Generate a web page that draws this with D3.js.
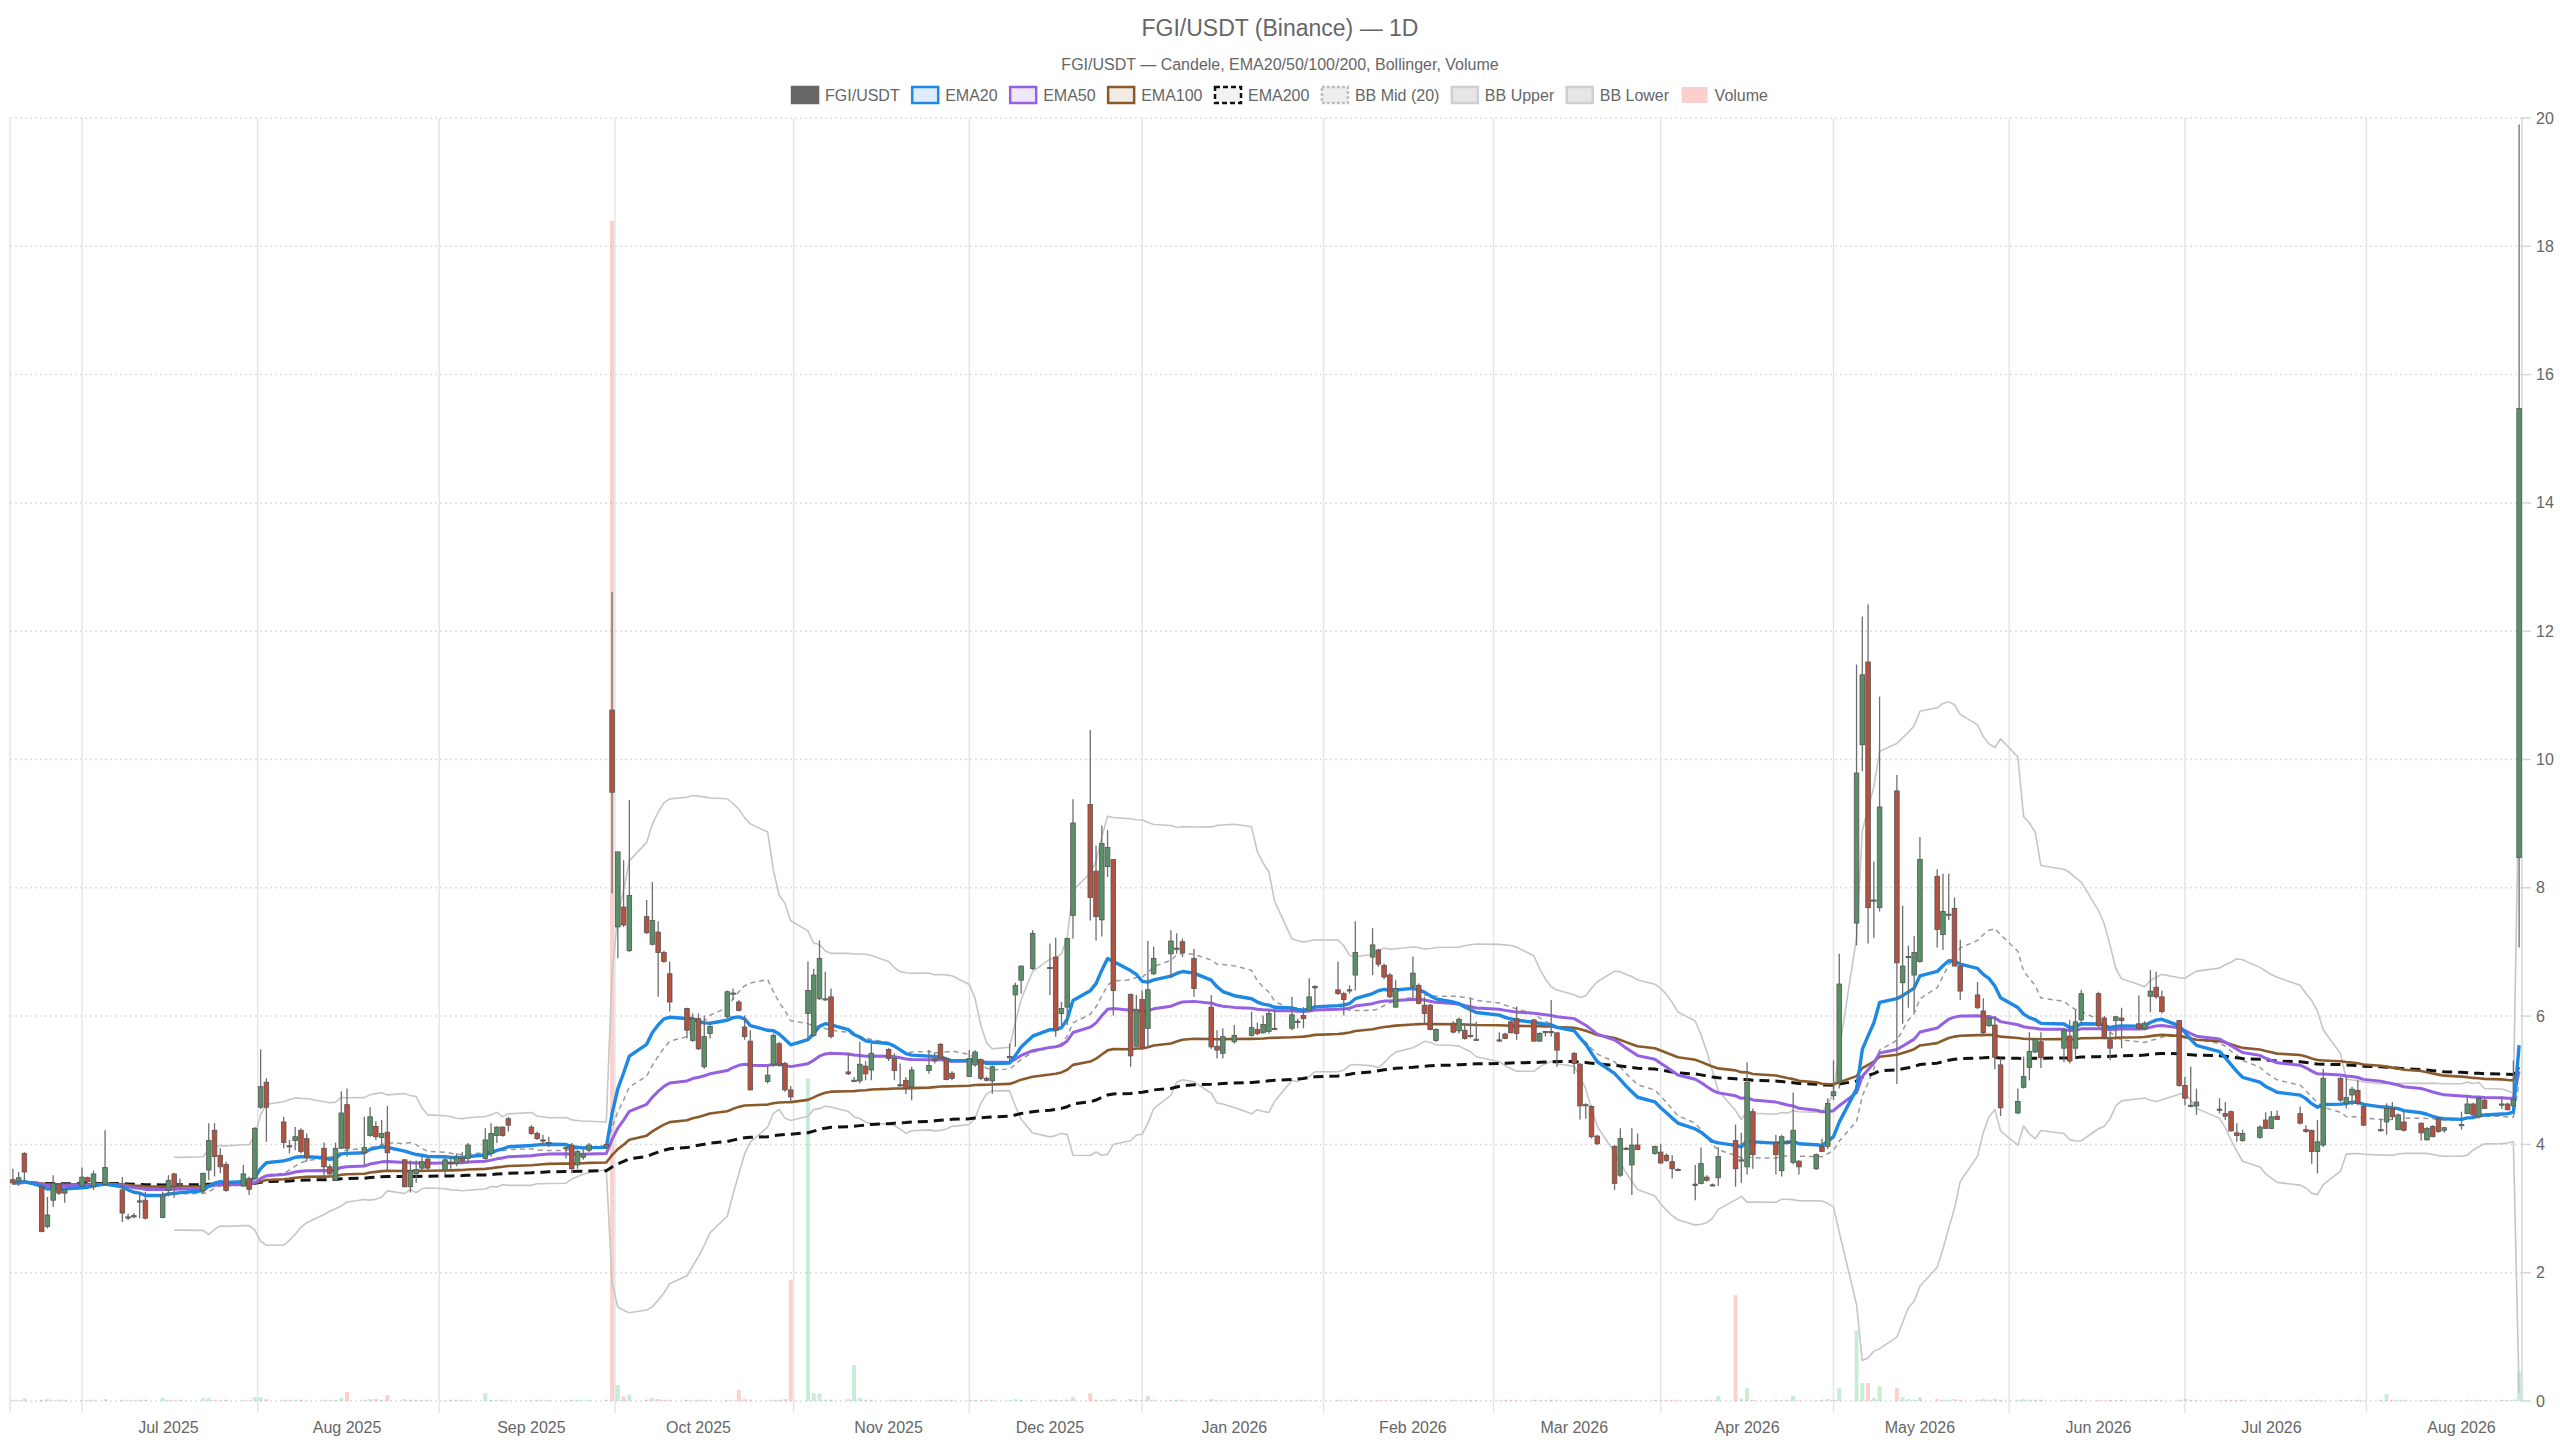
<!DOCTYPE html>
<html>
<head>
<meta charset="utf-8">
<title>FGI/USDT (Binance) — 1D</title>
<script src="https://cdn.jsdelivr.net/npm/d3@7"></script>
<style>
  body { margin: 0; background: #fff; }
  svg { display: block; font-family: "Liberation Sans", Arial, Helvetica, sans-serif; }
</style>
</head>
<body>
<svg id="chart" width="2560" height="1440"></svg>
<script>
//////////////////////////////////////////////
// Data //////////////////////////////////////
//////////////////////////////////////////////
// trading calendar: weekdays from first to last candle, minus market holidays
var firstDay = "2025-06-04";
var lastDay = "2026-08-13";
var holidays = ["2025-06-19", "2025-07-04", "2025-09-01", "2025-11-27", "2025-12-25",
  "2026-01-01", "2026-01-19", "2026-02-16", "2026-04-03", "2026-05-25", "2026-06-19", "2026-07-03"];

// one line per week
var opens = [
  3.45, 3.42, 3.86,
  3.34, 2.72, 3.13, 3.38, 3.24,
  3.35, 3.48, 3.34, 3.38,
  3.29, 2.87, 2.87, 3.10, 3.13,
  2.86, 3.28, 3.54, 3.38,
  3.28, 3.60, 4.22, 3.83, 3.69,
  3.35, 3.47, 3.47, 4.58, 4.97,
  4.35, 3.98, 4.06, 4.22, 4.09,
  3.94, 3.65, 3.44, 3.94, 4.62,
  3.87, 4.14, 4.28, 4.11, 4.19,
  3.76, 3.34, 3.54, 3.63, 3.77,
  3.60, 3.72, 3.70, 3.78, 3.78,
  3.78, 3.86, 4.14, 4.27, 4.40,
  4.27, 4.17, 4.07, 4.02,
  3.94, 3.99, 3.68, 3.80, 3.91,
  3.96, 10.77, 7.39, 7.70, 7.02,
  7.55, 7.12, 7.31, 6.99, 6.66,
  6.12, 5.62, 5.96, 5.21, 5.73,
  5.99, 6.34, 6.22, 5.83, 5.61,
  4.98, 5.24, 5.57, 5.26, 4.85,
  6.04, 5.70, 6.27, 6.27, 6.30,
  5.13, 4.99, 4.99, 5.22, 5.16,
  5.48, 5.34, 4.93, 5.00, 4.90,
  5.15, 5.33, 5.56, 5.34, 5.11,
  5.06, 5.24, 5.32, 5.03, 4.99,
  5.35, 6.33, 6.56, 6.74,
  6.74, 6.92, 6.04, 6.14, 7.57,
  9.30, 8.26, 7.50, 8.33, 8.44,
  6.34, 5.53, 6.26, 5.81, 6.66,
  6.97, 7.05, 7.16, 6.90,
  6.14, 5.53, 5.42, 5.60,
  5.70, 5.79, 5.74, 5.76, 5.80,
  5.81, 5.92, 6.01, 6.09, 6.44,
  6.41, 6.35, 6.40, 6.64,
  6.92, 7.03, 6.79, 6.64, 6.14,
  6.46, 6.48, 6.17, 6.17, 5.62,
  5.89, 5.77, 5.78, 5.69, 5.63,
  5.63, 5.72, 5.91, 5.96,
  5.94, 5.61, 5.75, 5.76, 5.74,
  5.42, 5.25, 4.61, 4.59, 4.13,
  3.97, 3.52, 3.94, 3.68, 3.99,
  3.86, 3.88, 3.83, 3.73, 3.61,
  3.38, 3.39, 3.49, 3.37, 3.48,
  4.06, 3.74, 3.65, 4.51,
  4.03, 3.59, 4.03, 3.72, 3.74,
  3.62, 3.97, 3.97, 4.76, 4.97,
  7.45, 10.23, 11.52, 7.80, 7.69,
  9.51, 6.52, 6.92, 6.64, 6.85,
  8.18, 7.27, 7.57, 7.68, 6.78,
  6.33, 6.08, 5.85, 5.86, 5.24,
  4.49, 4.89, 5.20, 5.44, 5.60,
  5.50, 5.69, 5.50, 5.94,
  6.35, 5.97, 5.63, 5.93, 5.97,
  5.88, 5.80, 6.31, 6.45, 6.30,
  5.93, 4.92, 4.60, 4.60,
  4.55, 4.48, 4.51, 4.18, 4.06,
  4.11, 4.38, 4.25, 4.44,
  4.48, 4.23, 4.22, 3.89, 3.99,
  5.03, 4.64, 4.77, 4.84, 4.59,
  4.22, 4.35, 4.56, 4.23, 4.35,
  4.33, 4.07, 4.28, 4.40, 4.22,
  4.30, 4.48, 4.63, 4.43, 4.69,
  4.62, 4.63, 4.60, 8.47
];
var highs = [
  3.62, 3.57, 3.88,
  3.39, 3.18, 3.52, 3.40, 3.31,
  3.64, 3.50, 3.59, 4.22,
  3.49, 2.92, 2.93, 3.26, 3.26,
  3.26, 3.52, 3.56, 3.47,
  3.56, 4.33, 4.33, 3.94, 3.73,
  3.68, 3.50, 4.27, 5.48, 5.03,
  4.43, 4.07, 4.27, 4.25, 4.17,
  4.03, 3.69, 4.03, 4.83, 4.87,
  4.43, 4.58, 4.36, 4.38, 4.60,
  3.77, 3.75, 3.75, 3.83, 3.81,
  3.81, 3.82, 3.86, 3.88, 4.02,
  4.25, 4.33, 4.28, 4.28, 4.43,
  4.30, 4.20, 4.15, 4.12,
  3.97, 4.02, 3.92, 3.92, 4.02,
  4.03, 12.61, 8.56, 8.43, 9.37,
  7.81, 8.09, 7.48, 7.02, 6.85,
  6.13, 6.04, 6.04, 6.01, 5.91,
  6.40, 6.43, 6.25, 6.01, 5.78,
  5.21, 5.73, 5.60, 5.29, 4.91,
  6.85, 6.74, 7.18, 6.69, 6.43,
  5.42, 5.05, 5.60, 5.30, 5.57,
  5.50, 5.42, 5.26, 5.05, 5.21,
  5.47, 5.44, 5.58, 5.36, 5.14,
  5.47, 5.47, 5.34, 5.06, 5.23,
  5.57, 6.52, 6.79, 7.34,
  7.13, 7.22, 6.22, 7.22, 9.38,
  10.46, 8.66, 8.97, 8.90, 8.44,
  6.35, 6.33, 6.40, 7.17, 7.08,
  7.34, 7.29, 7.21, 7.05,
  6.33, 5.78, 5.81, 5.86,
  6.07, 5.90, 6.01, 6.09, 6.09,
  6.30, 5.96, 6.14, 6.59, 6.48,
  6.85, 6.38, 6.48, 7.48,
  7.37, 7.05, 6.82, 6.67, 6.56,
  6.93, 6.51, 6.30, 6.19, 5.81,
  5.92, 5.98, 5.88, 6.27, 5.91,
  5.75, 5.74, 5.93, 6.15,
  5.96, 5.75, 5.77, 6.25, 5.75,
  5.44, 5.27, 4.64, 4.61, 4.15,
  3.99, 4.25, 3.96, 4.25, 4.17,
  3.98, 4.01, 3.86, 3.83, 3.63,
  3.68, 3.95, 3.52, 3.39, 3.96,
  4.31, 4.18, 5.28, 4.56,
  4.15, 4.15, 4.07, 4.81, 3.75,
  3.86, 4.09, 4.72, 5.31, 6.97,
  11.48, 12.23, 12.42, 8.41, 10.98,
  9.76, 7.72, 7.10, 7.25, 8.79,
  8.29, 8.22, 8.22, 7.85, 7.19,
  6.53, 6.28, 5.99, 6.00, 5.34,
  4.87, 5.37, 5.75, 5.66, 5.75,
  5.81, 5.94, 6.10, 6.41,
  6.38, 6.00, 5.75, 6.00, 6.13,
  6.32, 5.92, 6.72, 6.69, 6.40,
  5.94, 5.05, 5.21, 4.87,
  4.72, 4.66, 4.53, 4.33, 4.23,
  4.30, 4.50, 4.52, 4.53,
  4.59, 4.30, 4.23, 4.38, 5.18,
  5.05, 5.05, 4.90, 5.00, 4.64,
  4.40, 4.64, 4.66, 4.48, 4.51,
  4.34, 4.27, 4.30, 4.42, 4.27,
  4.51, 4.74, 4.65, 4.74, 4.71,
  4.74, 4.65, 5.31, 19.90
];
var lows = [
  3.37, 3.35, 3.42,
  2.63, 2.69, 3.03, 3.21, 3.09,
  3.34, 3.39, 3.29, 3.37,
  2.79, 2.82, 2.85, 2.85, 2.83,
  2.85, 3.19, 3.17, 3.31,
  3.24, 3.44, 3.50, 3.55, 3.26,
  3.34, 3.21, 3.45, 4.55, 4.04,
  3.94, 3.86, 3.91, 3.86, 3.73,
  3.50, 3.49, 3.43, 3.93, 3.81,
  3.68, 4.12, 4.07, 3.96, 3.60,
  3.33, 3.25, 3.40, 3.60, 3.60,
  3.52, 3.62, 3.66, 3.70, 3.70,
  3.76, 3.81, 4.02, 4.12, 4.20,
  4.15, 4.07, 4.00, 3.96,
  3.78, 3.55, 3.62, 3.76, 3.88,
  3.93, 7.91, 6.90, 7.39, 7.00,
  7.28, 7.10, 6.30, 6.83, 6.07,
  5.65, 5.60, 5.47, 5.18, 5.65,
  5.96, 6.25, 6.07, 5.63, 4.84,
  4.95, 5.21, 5.21, 4.82, 4.66,
  5.62, 5.68, 6.25, 6.24, 5.65,
  5.08, 4.97, 4.95, 5.00, 5.00,
  5.30, 5.00, 4.90, 4.78, 4.69,
  5.10, 5.26, 5.31, 5.00, 5.00,
  5.05, 5.21, 5.00, 4.98, 4.79,
  5.30, 5.52, 6.35, 6.72,
  6.33, 5.68, 5.86, 5.86, 7.21,
  7.49, 7.18, 7.24, 8.17, 6.01,
  5.21, 5.52, 5.49, 5.52, 6.64,
  6.59, 6.97, 6.92, 6.30,
  5.49, 5.34, 5.34, 5.57,
  5.68, 5.70, 5.73, 5.73, 5.78,
  5.78, 5.81, 5.81, 6.07, 6.09,
  6.33, 6.01, 6.35, 6.40,
  6.64, 6.77, 6.58, 6.28, 6.13,
  6.25, 6.18, 5.89, 5.78, 5.60,
  5.73, 5.73, 5.63, 5.66, 5.61,
  5.60, 5.64, 5.73, 5.63,
  5.60, 5.60, 5.68, 5.68, 5.21,
  5.10, 4.39, 4.40, 4.09, 3.99,
  3.29, 3.49, 3.91, 3.21, 3.91,
  3.84, 3.70, 3.73, 3.47, 3.59,
  3.13, 3.38, 3.42, 3.35, 3.35,
  3.34, 3.40, 3.53, 3.62,
  3.53, 3.50, 4.00, 3.69, 3.53,
  3.60, 3.88, 3.93, 4.69, 4.87,
  7.10, 9.82, 7.13, 7.22, 7.63,
  4.94, 5.88, 6.13, 6.06, 6.83,
  7.07, 7.03, 7.50, 6.78, 6.25,
  6.11, 5.70, 5.83, 5.17, 4.44,
  4.47, 4.87, 5.00, 5.42, 5.19,
  5.28, 5.26, 5.38, 5.85,
  5.81, 5.64, 5.31, 5.63, 5.50,
  5.78, 5.78, 6.06, 6.27, 6.04,
  4.90, 4.61, 4.58, 4.46,
  4.48, 4.38, 4.20, 4.04, 4.04,
  4.09, 4.24, 4.24, 4.38,
  4.31, 4.18, 3.70, 3.55, 3.96,
  4.66, 4.56, 4.61, 4.61, 4.29,
  4.20, 4.15, 4.38, 4.22, 4.20,
  4.06, 4.06, 4.11, 4.18, 4.18,
  4.23, 4.47, 4.44, 4.40, 4.55,
  4.55, 4.53, 4.59, 7.07
];
var closes = [
  3.40, 3.48, 3.57,
  2.64, 2.90, 3.39, 3.24, 3.30,
  3.49, 3.42, 3.54, 3.64,
  2.93, 2.86, 2.89, 3.12, 2.85,
  3.21, 3.44, 3.34, 3.36,
  3.55, 4.06, 3.81, 3.65, 3.28,
  3.54, 3.30, 4.25, 4.90, 4.58,
  4.03, 3.97, 4.12, 3.89, 3.80,
  3.65, 3.54, 3.94, 4.49, 3.94,
  3.95, 4.43, 4.12, 4.17, 3.87,
  3.34, 3.59, 3.61, 3.73, 3.63,
  3.76, 3.70, 3.80, 3.74, 3.99,
  4.07, 4.17, 4.27, 4.14, 4.30,
  4.17, 4.09, 4.06, 4.03,
  3.95, 3.62, 3.89, 3.85, 3.99,
  4.00, 9.49, 8.56, 7.42, 7.88,
  7.30, 7.49, 6.99, 6.85, 6.22,
  5.78, 5.96, 5.49, 5.68, 5.84,
  6.38, 6.36, 6.09, 5.68, 4.85,
  5.08, 5.70, 5.24, 4.85, 4.74,
  6.40, 6.64, 6.90, 6.27, 5.68,
  5.10, 5.00, 5.25, 5.10, 5.42,
  5.34, 5.15, 4.92, 4.87, 5.16,
  5.23, 5.30, 5.34, 5.01, 5.03,
  5.34, 5.44, 5.03, 5.00, 5.21,
  5.37, 6.48, 6.78, 7.29,
  6.76, 5.78, 6.12, 7.21, 9.01,
  7.85, 7.55, 8.69, 8.63, 6.40,
  5.38, 6.10, 5.51, 6.41, 6.90,
  7.17, 7.06, 6.99, 6.43,
  5.52, 5.47, 5.68, 5.70,
  5.82, 5.73, 5.87, 6.04, 5.81,
  6.02, 5.90, 5.96, 6.30, 6.46,
  6.35, 6.26, 6.41, 6.99,
  7.11, 6.81, 6.61, 6.30, 6.43,
  6.67, 6.20, 6.04, 5.79, 5.79,
  5.75, 5.95, 5.65, 5.70, 5.64,
  5.62, 5.65, 5.74, 5.73,
  5.61, 5.73, 5.76, 5.74, 5.47,
  5.26, 4.60, 4.62, 4.12, 4.01,
  3.39, 4.09, 3.93, 3.99, 3.92,
  3.97, 3.71, 3.75, 3.62, 3.60,
  3.37, 3.70, 3.44, 3.36, 3.81,
  3.62, 3.76, 4.97, 3.84,
  3.84, 4.12, 4.04, 4.22, 3.65,
  3.84, 3.89, 4.64, 4.82, 6.50,
  9.79, 11.32, 7.69, 7.81, 9.26,
  6.83, 6.78, 6.93, 6.99, 8.44,
  7.35, 7.63, 7.59, 6.78, 6.39,
  6.13, 5.74, 5.97, 5.36, 4.57,
  4.67, 5.06, 5.45, 5.64, 5.35,
  5.78, 5.30, 5.91, 6.35,
  5.85, 5.66, 5.50, 5.99, 5.93,
  5.81, 5.89, 6.39, 6.30, 6.07,
  4.92, 4.72, 4.61, 4.66,
  4.54, 4.44, 4.21, 4.14, 4.17,
  4.27, 4.25, 4.43, 4.39,
  4.33, 4.20, 3.89, 4.04, 5.03,
  4.69, 4.73, 4.86, 4.64, 4.30,
  4.23, 4.56, 4.43, 4.46, 4.22,
  4.18, 4.25, 4.12, 4.20, 4.26,
  4.31, 4.63, 4.46, 4.72, 4.56,
  4.63, 4.54, 4.70, 15.47
];
// volume, millions of FGI
var volumes = [
  0.02, 0.01, 0.04,
  0.02, 0.03, 0.01, 0.02, 0.02,
  0.01, 0.02, 0.02, 0.03,
  0.02, 0.01, 0.01, 0.02, 0.02,
  0.05, 0.02, 0.01, 0.02,
  0.05, 0.05, 0.02, 0.01, 0.02,
  0.02, 0.01, 0.06, 0.06, 0.03,
  0.02, 0.01, 0.02, 0.02, 0.01,
  0.02, 0.01, 0.02, 0.05, 0.14,
  0.02, 0.03, 0.03, 0.02, 0.09,
  0.03, 0.02, 0.02, 0.01, 0.02,
  0.01, 0.02, 0.02, 0.01, 0.02,
  0.12, 0.02, 0.01, 0.02, 0.01,
  0.01, 0.02, 0.01, 0.02,
  0.01, 0.02, 0.02, 0.01, 0.02,
  0.02, 18.40, 0.25, 0.07, 0.10,
  0.02, 0.05, 0.03, 0.02, 0.02,
  0.02, 0.01, 0.02, 0.02, 0.01,
  0.02, 0.01, 0.17, 0.03, 0.02,
  0.01, 0.02, 0.02, 0.03, 1.89,
  5.03, 0.12, 0.12, 0.02, 0.02,
  0.03, 0.56, 0.05, 0.02, 0.02,
  0.01, 0.02, 0.01, 0.02, 0.01,
  0.02, 0.01, 0.02, 0.01, 0.02,
  0.01, 0.02, 0.01, 0.01, 0.02,
  0.01, 0.03, 0.02, 0.02,
  0.02, 0.02, 0.01, 0.02, 0.06,
  0.12, 0.02, 0.01, 0.02, 0.03,
  0.03, 0.02, 0.01, 0.08, 0.02,
  0.01, 0.02, 0.02, 0.01,
  0.03, 0.01, 0.01, 0.02,
  0.01, 0.02, 0.01, 0.01, 0.02,
  0.01, 0.01, 0.02, 0.01, 0.01,
  0.02, 0.01, 0.01, 0.02,
  0.01, 0.02, 0.01, 0.01, 0.02,
  0.01, 0.01, 0.02, 0.01, 0.01,
  0.02, 0.01, 0.01, 0.02, 0.01,
  0.01, 0.02, 0.01, 0.01,
  0.02, 0.01, 0.01, 0.02, 0.01,
  0.01, 0.02, 0.01, 0.02, 0.01,
  0.02, 0.01, 0.02, 0.01, 0.01,
  0.02, 0.01, 0.01, 0.02, 0.01,
  0.01, 0.01, 0.02, 0.01, 0.08,
  1.65, 0.04, 0.20, 0.02,
  0.02, 0.01, 0.02, 0.08, 0.01,
  0.01, 0.02, 0.03, 0.02, 0.20,
  1.10, 0.28, 0.28, 0.05, 0.23,
  0.20, 0.06, 0.03, 0.02, 0.06,
  0.03, 0.02, 0.02, 0.03, 0.02,
  0.02, 0.03, 0.02, 0.03, 0.02,
  0.02, 0.03, 0.02, 0.02, 0.02,
  0.02, 0.01, 0.02, 0.02,
  0.02, 0.01, 0.02, 0.01, 0.02,
  0.01, 0.02, 0.01, 0.02, 0.01,
  0.02, 0.03, 0.02, 0.01,
  0.01, 0.02, 0.01, 0.01, 0.02,
  0.01, 0.02, 0.01, 0.01,
  0.02, 0.01, 0.01, 0.02, 0.01,
  0.02, 0.01, 0.01, 0.02, 0.01,
  0.02, 0.11, 0.02, 0.01, 0.02,
  0.01, 0.01, 0.02, 0.01, 0.01,
  0.01, 0.02, 0.01, 0.02, 0.01,
  0.02, 0.01, 0.02, 0.46
];

var priceTicks = [0, 2, 4, 6, 8, 10, 12, 14, 16, 18, 20];
var volumeMax = 20;

var titleText = "FGI/USDT (Binance) — 1D";
var subtitleText = "FGI/USDT — Candele, EMA20/50/100/200, Bollinger, Volume";

//////////////////////////////////////////////
// Chart Config //////////////////////////////
//////////////////////////////////////////////
var W = 2560, H = 1440;
var plot = {left: 10, right: 2522, top: 118, bottom: 1401};
var textColor = "#666";
var gridColor = "#e5e5e5";
var upColor = "#5a9068", downColor = "#b5513f";

var fmtDay = d3.timeFormat("%Y-%m-%d");
var parseDay = d3.timeParse("%Y-%m-%d");
var holidaySet = new Set(holidays);
var dates = d3.timeDay.range(parseDay(firstDay), d3.timeDay.offset(parseDay(lastDay), 1))
  .filter(function(d) {
    var w = d.getDay();
    return w !== 0 && w !== 6 && !holidaySet.has(fmtDay(d));
  });
if (dates.length !== closes.length) console.warn("length mismatch", dates.length, closes.length);

// indicators from closes
function ema(values, n) {
  var k = 2 / (n + 1), prev, out = [];
  values.forEach(function(v, i) {
    prev = (i === 0) ? v : v * k + prev * (1 - k);
    out.push(prev);
  });
  return out;
}
function bollinger(values, n, mult) {
  var mid = [], up = [], lo = [];
  values.forEach(function(v, i) {
    if (i < n - 1) { mid.push(null); up.push(null); lo.push(null); return; }
    var win = values.slice(i - n + 1, i + 1);
    var m = d3.mean(win);
    var sd = Math.sqrt(d3.mean(win, function(x) { return (x - m) * (x - m); }));
    mid.push(m); up.push(m + mult * sd); lo.push(m - mult * sd);
  });
  return {mid: mid, up: up, lo: lo};
}
var ema20 = ema(closes, 20), ema50 = ema(closes, 50), ema100 = ema(closes, 100), ema200 = ema(closes, 200);
var bb = bollinger(closes, 20, 2);

// scales
var x = d3.scaleTime()
  .domain([d3.timeHour.offset(dates[0], -12), d3.timeHour.offset(dates[dates.length - 1], 12)])
  .range([plot.left, plot.right]);
var y = d3.scaleLinear().domain([0, 20]).range([plot.bottom, plot.top]);
var yVol = d3.scaleLinear().domain([0, volumeMax]).range([plot.bottom, plot.top]);
// width of one calendar day in pixels
var step = (plot.right - plot.left) / (d3.timeDay.count(dates[0], dates[dates.length - 1]) + 1);
var bodyW = step * 0.8;

var svg = d3.select("#chart");
svg.append("rect").attr("width", W).attr("height", H).attr("fill", "#fff");

//////////////////////////////////////////////
// Title / legend ////////////////////////////
//////////////////////////////////////////////
svg.append("text").attr("x", W / 2).attr("y", 28).attr("text-anchor", "middle")
  .attr("dominant-baseline", "central").attr("fill", textColor).style("font-size", "23px").text(titleText);
svg.append("text").attr("x", W / 2).attr("y", 64).attr("text-anchor", "middle")
  .attr("dominant-baseline", "central").attr("fill", textColor).style("font-size", "16px").text(subtitleText);

var legendItems = [
  {label: "FGI/USDT", fill: "#666", stroke: "#666", dash: null},
  {label: "EMA20", fill: "rgba(30,136,229,0.15)", stroke: "#1e88e5", dash: null},
  {label: "EMA50", fill: "rgba(149,97,226,0.15)", stroke: "#9561e2", dash: null},
  {label: "EMA100", fill: "rgba(139,90,43,0.12)", stroke: "#8b5a2b", dash: null},
  {label: "EMA200", fill: "rgba(0,0,0,0.05)", stroke: "#111", dash: "5,3"},
  {label: "BB Mid (20)", fill: "#eeeeee", stroke: "#bdbdbd", dash: "3,2"},
  {label: "BB Upper", fill: "#e6e6e6", stroke: "#cfcfcf", dash: null},
  {label: "BB Lower", fill: "#e6e6e6", stroke: "#cfcfcf", dash: null},
  {label: "Volume", fill: "rgba(239,83,80,0.28)", stroke: "none", dash: null}
];
var legend = svg.append("g").attr("class", "legend");
var boxW = 26, boxH = 16, boxGap = 7, itemGap = 12.5, legendY = 95;
var items = legend.selectAll("g").data(legendItems).enter().append("g");
items.append("rect")
  .attr("width", boxW).attr("height", boxH).attr("y", legendY - boxH / 2)
  .attr("fill", function(d) { return d.fill; })
  .attr("stroke", function(d) { return d.stroke; })
  .attr("stroke-width", 2.5)
  .attr("stroke-dasharray", function(d) { return d.dash; });
items.append("text")
  .attr("x", boxW + boxGap).attr("y", legendY).attr("dominant-baseline", "central")
  .attr("fill", textColor).style("font-size", "16px")
  .text(function(d) { return d.label; });
var widths = [];
items.each(function() { widths.push(boxW + boxGap + d3.select(this).select("text").node().getComputedTextLength()); });
var totalW = d3.sum(widths) + itemGap * (widths.length - 1);
var cx = W / 2 - totalW / 2;
items.attr("transform", function(d, i) {
  var t = "translate(" + cx + ",0)";
  cx += widths[i] + itemGap;
  return t;
});

//////////////////////////////////////////////
// Grid / axes ///////////////////////////////
//////////////////////////////////////////////
// month ticks on the first trading day of each month; grid lines sit halfway between ticks
var monthTicks = [];
dates.forEach(function(d, i) {
  if (i > 0 && d.getMonth() !== dates[i - 1].getMonth()) monthTicks.push(d);
});
var prevTick = d3.timeMonth.floor(dates[0]);
var monthGrid = monthTicks.map(function(d) {
  var g = new Date((prevTick.getTime() + d.getTime()) / 2);
  prevTick = d;
  return g;
});

var grid = svg.append("g").attr("class", "grid");
grid.selectAll("line.h").data(priceTicks).enter().append("line")
  .attr("x1", plot.left).attr("x2", plot.right)
  .attr("y1", function(d) { return y(d); }).attr("y2", function(d) { return y(d); })
  .attr("stroke", "#dedede").attr("stroke-width", 1.5).attr("stroke-dasharray", "2,3");
grid.selectAll("line.v").data(monthGrid).enter().append("line")
  .attr("x1", function(d) { return x(d); }).attr("x2", function(d) { return x(d); })
  .attr("y1", plot.top).attr("y2", plot.bottom + 12)
  .attr("stroke", gridColor).attr("stroke-width", 1.5);
grid.append("line").attr("x1", plot.left).attr("x2", plot.left)
  .attr("y1", plot.top).attr("y2", plot.bottom + 12).attr("stroke", gridColor).attr("stroke-width", 1.5);

var xAxisEl = svg.append("g").attr("class", "x axis");
xAxisEl.selectAll("text").data(monthTicks).enter().append("text")
  .attr("x", function(d) { return x(d); }).attr("y", 1427)
  .attr("text-anchor", "middle").attr("dominant-baseline", "central")
  .attr("fill", textColor).style("font-size", "16px")
  .text(d3.timeFormat("%b %Y"));

var yAxisEl = svg.append("g").attr("class", "y axis");
yAxisEl.append("line").attr("x1", plot.right).attr("x2", plot.right)
  .attr("y1", plot.top).attr("y2", plot.bottom).attr("stroke", "#d6d6d6").attr("stroke-width", 1.5);
yAxisEl.selectAll("line.tick").data(priceTicks).enter().append("line")
  .attr("x1", plot.right).attr("x2", plot.right + 9)
  .attr("y1", function(d) { return y(d); }).attr("y2", function(d) { return y(d); })
  .attr("stroke", "#d6d6d6").attr("stroke-width", 1.5);
yAxisEl.selectAll("text").data(priceTicks).enter().append("text")
  .attr("x", plot.right + 14).attr("y", function(d) { return y(d); })
  .attr("dominant-baseline", "central").attr("fill", textColor).style("font-size", "16px")
  .text(function(d) { return d; });

//////////////////////////////////////////////
// Drawing ///////////////////////////////////
//////////////////////////////////////////////
var artboard = svg.append("g").attr("class", "artboard");

// volume at the back
artboard.append("g").selectAll("rect").data(volumes).enter().append("rect")
  .attr("x", function(d, i) { return x(dates[i]) - 2; })
  .attr("width", 4)
  .attr("y", function(d) { return yVol(d); })
  .attr("height", function(d) { return plot.bottom - yVol(d); })
  .attr("fill", function(d, i) { return closes[i] >= opens[i] ? "rgba(46,180,100,0.26)" : "rgba(239,90,80,0.28)"; });

function drawLine(values, color, width, dash) {
  var line = d3.line()
    .defined(function(d) { return d !== null; })
    .x(function(d, i) { return x(dates[i]); })
    .y(function(d) { return y(d); });
  artboard.append("path").datum(values)
    .attr("d", line)
    .attr("fill", "none")
    .attr("stroke", color)
    .attr("stroke-width", width)
    .attr("stroke-linejoin", "round")
    .attr("stroke-dasharray", dash);
}
drawLine(bb.lo, "#c6c6c6", 1.6, null);
drawLine(bb.up, "#c6c6c6", 1.6, null);
drawLine(bb.mid, "#9a9a9a", 1.5, "5,4");
drawLine(ema200, "#111", 3, "10,6");
drawLine(ema100, "#8b5a2b", 2.6, null);
drawLine(ema50, "#9561e2", 3, null);
drawLine(ema20, "#1e88e5", 3.4, null);

// candles on top
var candles = artboard.append("g").selectAll("g").data(closes).enter().append("g");
candles.append("line")
  .attr("x1", function(d, i) { return x(dates[i]); })
  .attr("x2", function(d, i) { return x(dates[i]); })
  .attr("y1", function(d, i) { return y(highs[i]); })
  .attr("y2", function(d, i) { return y(lows[i]); })
  .attr("stroke", "#6e6e6e").attr("stroke-width", 1.3);
candles.append("rect")
  .attr("x", function(d, i) { return x(dates[i]) - bodyW / 2; })
  .attr("width", bodyW)
  .attr("y", function(d, i) { return y(Math.max(opens[i], closes[i])); })
  .attr("height", function(d, i) { return Math.max(1.2, Math.abs(y(opens[i]) - y(closes[i]))); })
  .attr("fill", function(d, i) { return closes[i] > opens[i] ? upColor : (closes[i] < opens[i] ? downColor : "#888"); })
  .attr("stroke", "#555").attr("stroke-width", 0.8);
</script>
</body>
</html>
